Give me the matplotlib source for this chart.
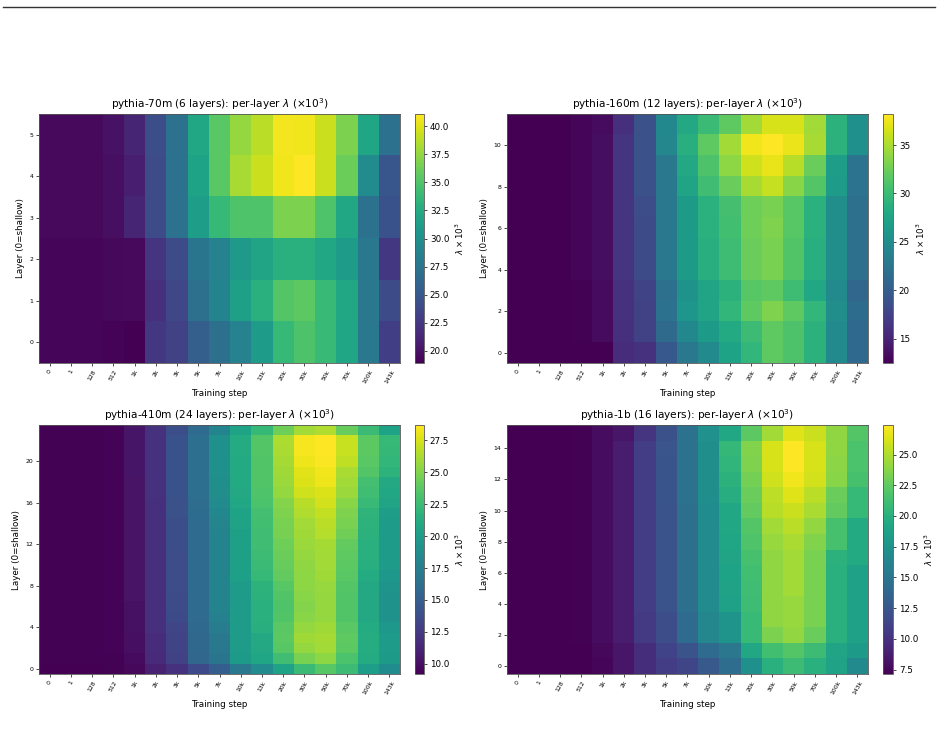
import numpy as np
import matplotlib
matplotlib.use("Agg")
import matplotlib.pyplot as plt
from matplotlib.lines import Line2D

steps = ["0", "1", "128", "512", "1k", "2k", "3k", "5k", "7k", "10k", "13k",
         "20k", "30k", "50k", "70k", "100k", "143k"]

# pythia-70m, layers 0..5 (values are lambda x 10^3)
lam_70m = [
    [19.2, 19.2, 19.2, 19.1, 18.9, 22.5, 23.3, 25.6, 27.1, 28.7, 31.1, 33.8, 34.9, 33.9, 32.0, 27.8, 23.0],
    [19.3, 19.3, 19.3, 19.4, 19.5, 22.0, 23.6, 27.1, 28.9, 31.5, 33.0, 35.2, 35.5, 33.9, 32.2, 27.8, 24.0],
    [19.3, 19.3, 19.3, 19.4, 19.5, 22.2, 24.1, 27.5, 28.7, 30.8, 31.9, 33.0, 33.0, 32.2, 31.2, 27.8, 22.5],
    [19.5, 19.5, 19.5, 19.8, 21.2, 24.0, 27.3, 31.3, 33.8, 35.0, 35.0, 36.7, 36.7, 35.0, 32.2, 27.3, 24.5],
    [19.5, 19.5, 19.5, 19.8, 20.8, 24.0, 27.3, 31.8, 35.4, 38.2, 39.3, 40.6, 41.1, 39.3, 36.1, 29.6, 24.8],
    [19.5, 19.5, 19.5, 20.0, 21.2, 24.2, 27.3, 32.2, 35.4, 37.6, 38.8, 40.7, 40.6, 39.3, 36.7, 32.0, 27.3],
]

# pythia-160m, layers 0..11
lam_160m = [
    [12.6, 12.6, 12.6, 12.6, 12.5, 15.8, 16.2, 19.6, 22.8, 24.8, 27.4, 29.5, 31.8, 31.0, 29.0, 24.7, 21.3],
    [12.6, 12.6, 12.6, 12.7, 13.3, 16.1, 17.6, 21.4, 24.5, 26.5, 28.2, 30.1, 31.8, 31.0, 29.0, 24.7, 21.3],
    [12.6, 12.6, 12.6, 12.7, 13.3, 16.2, 17.6, 22.2, 26.0, 27.5, 29.5, 31.8, 33.2, 31.8, 29.5, 25.2, 21.6],
    [12.6, 12.6, 12.6, 12.7, 13.3, 16.2, 17.8, 22.0, 25.6, 27.5, 29.0, 31.5, 31.8, 30.2, 27.9, 24.8, 21.0],
    [12.6, 12.6, 12.6, 12.9, 13.5, 16.4, 18.4, 22.8, 26.5, 28.7, 30.2, 32.3, 33.0, 31.2, 28.7, 25.2, 22.0],
    [12.6, 12.6, 12.6, 13.0, 13.5, 16.4, 18.4, 22.8, 26.5, 28.7, 30.2, 32.3, 33.0, 31.2, 28.7, 25.2, 22.0],
    [12.6, 12.6, 12.6, 13.0, 13.5, 16.4, 18.4, 22.8, 26.5, 28.9, 30.4, 32.5, 33.2, 31.5, 28.9, 25.2, 22.0],
    [12.6, 12.6, 12.6, 13.0, 13.5, 16.4, 18.6, 22.8, 26.5, 28.9, 30.6, 32.5, 33.0, 31.5, 28.9, 25.2, 22.0],
    [12.6, 12.6, 12.6, 13.0, 13.5, 16.4, 18.9, 22.8, 27.5, 30.3, 32.3, 34.8, 35.9, 33.6, 31.3, 26.6, 22.3],
    [12.6, 12.6, 12.6, 13.0, 13.5, 16.4, 18.9, 22.8, 28.0, 31.0, 33.8, 36.3, 37.3, 35.4, 32.3, 26.8, 22.3],
    [12.6, 12.6, 12.6, 13.0, 13.5, 16.4, 18.9, 24.4, 28.7, 31.8, 34.6, 37.6, 38.2, 37.4, 34.8, 29.0, 25.4],
    [12.6, 12.6, 12.6, 13.0, 13.3, 16.1, 18.9, 24.5, 28.0, 30.0, 31.8, 34.6, 36.6, 36.6, 34.6, 29.0, 25.4],
]

# pythia-410m, layers 0..23
lam_410m = [
    [9.2, 9.2, 9.2, 9.3, 9.6, 11.0, 12.0, 13.5, 15.0, 17.0, 18.6, 20.5, 22.5, 23.6, 22.6, 20.1, 18.7],
    [9.3, 9.3, 9.3, 9.3, 9.8, 11.6, 13.0, 15.6, 16.8, 19.8, 20.7, 22.7, 24.8, 25.4, 23.2, 21.2, 19.8],
    [9.3, 9.3, 9.3, 9.4, 10.0, 11.7, 13.2, 15.8, 17.0, 20.0, 21.0, 23.6, 25.6, 26.0, 23.8, 21.3, 19.9],
    [9.3, 9.3, 9.3, 9.4, 10.0, 11.7, 13.2, 15.8, 17.0, 20.0, 21.0, 23.8, 25.9, 26.1, 23.9, 21.3, 19.9],
    [9.3, 9.3, 9.3, 9.4, 10.1, 11.8, 13.3, 15.9, 17.5, 19.9, 21.4, 23.7, 25.6, 25.9, 23.7, 21.2, 19.6],
    [9.3, 9.3, 9.3, 9.4, 10.1, 11.8, 13.6, 16.0, 17.8, 19.9, 21.6, 23.4, 25.2, 25.6, 23.4, 21.0, 19.2],
    [9.3, 9.3, 9.3, 9.4, 10.1, 11.8, 13.7, 16.0, 18.0, 19.9, 21.6, 23.3, 25.1, 25.6, 23.4, 21.0, 19.2],
    [9.3, 9.3, 9.3, 9.4, 10.2, 11.8, 13.7, 16.0, 18.0, 19.9, 21.7, 23.4, 25.2, 25.6, 23.4, 21.0, 19.2],
    [9.3, 9.3, 9.3, 9.4, 10.2, 11.8, 13.8, 16.0, 18.0, 20.0, 21.8, 23.6, 25.4, 25.7, 23.5, 21.0, 19.3],
    [9.3, 9.3, 9.3, 9.4, 10.2, 11.8, 13.8, 16.0, 18.0, 20.2, 22.3, 24.0, 25.4, 25.9, 23.7, 21.2, 19.6],
    [9.3, 9.3, 9.3, 9.4, 10.2, 11.8, 13.8, 16.0, 18.0, 20.3, 22.5, 24.2, 25.5, 26.0, 23.8, 21.5, 19.9],
    [9.3, 9.3, 9.3, 9.4, 10.2, 11.8, 13.8, 16.0, 18.0, 20.3, 22.6, 24.3, 25.6, 26.0, 23.9, 21.6, 19.9],
    [9.3, 9.3, 9.3, 9.4, 10.2, 11.8, 13.9, 16.0, 18.0, 20.3, 22.7, 24.4, 25.8, 26.1, 24.0, 21.6, 19.9],
    [9.3, 9.3, 9.3, 9.4, 10.2, 11.8, 13.9, 16.0, 18.0, 20.3, 22.7, 24.7, 25.9, 26.5, 24.5, 21.7, 19.9],
    [9.3, 9.3, 9.3, 9.4, 10.2, 11.8, 13.9, 16.0, 18.1, 20.4, 22.8, 24.8, 26.0, 26.7, 24.8, 21.8, 20.0],
    [9.3, 9.3, 9.3, 9.4, 10.2, 11.9, 14.0, 16.1, 18.3, 20.5, 22.9, 24.9, 26.4, 26.9, 24.9, 21.9, 20.1],
    [9.3, 9.3, 9.3, 9.4, 10.2, 11.9, 14.0, 16.2, 18.6, 20.8, 23.2, 25.1, 26.6, 27.4, 25.2, 22.4, 20.6],
    [9.3, 9.3, 9.3, 9.4, 10.2, 12.0, 14.1, 16.3, 18.8, 21.0, 23.3, 25.6, 27.3, 27.7, 25.8, 22.7, 20.9],
    [9.3, 9.3, 9.3, 9.4, 10.2, 12.0, 14.1, 16.3, 18.9, 21.1, 23.4, 25.8, 27.7, 28.2, 26.0, 22.9, 21.0],
    [9.3, 9.3, 9.3, 9.4, 10.3, 12.0, 14.1, 16.3, 19.0, 21.1, 23.4, 25.9, 27.8, 28.3, 26.2, 23.5, 21.8],
    [9.3, 9.3, 9.3, 9.4, 10.3, 12.0, 14.1, 16.3, 19.0, 21.1, 23.4, 26.1, 28.2, 28.6, 26.8, 23.7, 22.1],
    [9.3, 9.3, 9.3, 9.4, 10.3, 12.0, 14.1, 16.3, 19.0, 21.2, 23.5, 26.2, 28.4, 28.7, 27.1, 23.8, 22.2],
    [9.3, 9.3, 9.3, 9.4, 10.3, 12.0, 14.1, 16.3, 19.0, 21.2, 23.5, 26.3, 28.4, 28.7, 27.1, 23.8, 22.3],
    [9.3, 9.3, 9.3, 9.4, 10.3, 12.0, 13.9, 16.0, 18.0, 20.5, 22.3, 24.4, 26.0, 26.4, 24.2, 22.5, 20.5],
]

# pythia-1b, layers 0..15
lam_1b = [
    [7.15, 7.2, 7.2, 7.2, 7.4, 8.4, 9.8, 10.8, 11.4, 12.8, 14.4, 17.3, 20.0, 21.0, 20.0, 18.8, 16.8],
    [7.2, 7.2, 7.2, 7.2, 7.6, 8.4, 9.8, 11.2, 12.3, 14.2, 15.2, 19.3, 21.3, 22.0, 21.0, 19.0, 18.2],
    [7.2, 7.2, 7.2, 7.3, 7.8, 8.8, 10.6, 11.9, 14.2, 16.5, 17.6, 20.9, 23.4, 24.1, 22.8, 20.0, 18.7],
    [7.2, 7.2, 7.2, 7.3, 7.8, 8.8, 10.6, 11.9, 14.2, 16.5, 17.6, 20.9, 24.0, 24.3, 23.3, 20.0, 18.7],
    [7.2, 7.2, 7.2, 7.3, 7.8, 8.8, 10.8, 12.3, 14.6, 16.9, 18.7, 21.1, 24.0, 24.3, 23.3, 20.0, 18.7],
    [7.2, 7.2, 7.2, 7.3, 7.8, 8.8, 10.8, 12.3, 14.6, 16.9, 18.8, 21.2, 24.0, 24.6, 23.3, 20.0, 18.7],
    [7.2, 7.2, 7.2, 7.3, 7.8, 8.8, 10.8, 12.3, 14.6, 16.9, 18.9, 21.3, 24.0, 24.6, 23.3, 20.0, 18.7],
    [7.2, 7.2, 7.2, 7.3, 7.8, 8.8, 10.8, 12.3, 14.6, 16.9, 19.0, 21.5, 24.0, 24.6, 23.3, 20.2, 19.5],
    [7.2, 7.2, 7.2, 7.3, 7.8, 8.8, 10.8, 12.3, 14.6, 16.9, 19.1, 21.8, 24.3, 24.8, 23.6, 21.5, 19.5],
    [7.2, 7.2, 7.2, 7.3, 7.8, 8.8, 10.8, 12.3, 14.6, 16.9, 19.2, 22.0, 24.6, 25.3, 24.1, 21.5, 19.5],
    [7.2, 7.2, 7.2, 7.3, 7.8, 8.8, 10.8, 12.3, 14.6, 17.0, 19.3, 22.5, 25.2, 25.8, 24.8, 22.5, 20.7],
    [7.2, 7.2, 7.2, 7.3, 7.8, 8.8, 10.8, 12.4, 14.8, 17.2, 19.8, 22.8, 25.4, 26.4, 25.3, 22.8, 20.7],
    [7.2, 7.2, 7.2, 7.3, 7.8, 8.8, 10.8, 12.4, 14.8, 17.2, 20.2, 23.2, 25.9, 27.0, 26.0, 23.8, 21.5],
    [7.2, 7.2, 7.2, 7.3, 7.8, 8.8, 10.8, 12.4, 14.8, 17.2, 20.5, 23.5, 26.2, 27.4, 26.2, 23.9, 21.7],
    [7.2, 7.2, 7.2, 7.3, 7.8, 8.8, 10.8, 12.5, 14.8, 17.2, 20.6, 23.6, 26.2, 27.4, 26.2, 24.0, 21.7],
    [7.2, 7.2, 7.2, 7.3, 7.8, 8.4, 10.2, 12.2, 14.8, 17.4, 19.3, 22.3, 24.6, 26.4, 25.8, 24.0, 22.0],
]

titles = [
    r"pythia-70m (6 layers): per-layer $\lambda$ ($\times10^3$)",
    r"pythia-160m (12 layers): per-layer $\lambda$ ($\times10^3$)",
    r"pythia-410m (24 layers): per-layer $\lambda$ ($\times10^3$)",
    r"pythia-1b (16 layers): per-layer $\lambda$ ($\times10^3$)",
]
datasets = [lam_70m, lam_160m, lam_410m, lam_1b]

W, H = 948, 738
fig = plt.figure(figsize=(W / 100, H / 100), dpi=100)

def fx(px):
    return px / W

def fy(py):
    return 1 - py / H

# (left, right, top, bottom) in pixels for heatmap; colorbar left/right
boxes = [
    (39, 400, 114, 363, 415, 424),
    (507, 868, 114, 363, 883, 893),
    (39, 400, 425, 674, 415, 424),
    (507, 868, 425, 674, 883, 893),
]

for data, title, (l, r, t, b, cl, cr) in zip(datasets, titles, boxes):
    arr = np.array(data)
    n_layers = arr.shape[0]
    ax = fig.add_axes([fx(l), fy(b), fx(r - l), (b - t) / H])
    im = ax.imshow(arr, origin="lower", aspect="auto", cmap="viridis",
                   interpolation="nearest")
    ax.set_xticks(range(len(steps)))
    ax.set_xticklabels(steps, rotation=60, fontsize=4.4)
    ax.set_yticks(range(0, n_layers, max(1, n_layers // 6)))
    ax.tick_params(axis="both", labelsize=4.4, length=2.2, width=0.5, pad=2)
    ax.set_xlabel("Training step", fontsize=6.3, labelpad=3)
    ax.set_ylabel("Layer (0=shallow)", fontsize=6.3, labelpad=3)
    ax.set_title(title, fontsize=7.6, pad=4)
    for s in ax.spines.values():
        s.set_linewidth(0.6)
        s.set_color("#555555")
    cax = fig.add_axes([fx(cl), fy(b), fx(cr - cl), (b - t) / H])
    cb = fig.colorbar(im, cax=cax)
    cb.ax.tick_params(labelsize=6.3, length=2.2, width=0.5, pad=2)
    cb.outline.set_linewidth(0.6)
    cb.outline.set_edgecolor("#555555")
    cb.set_label(r"$\lambda\times10^3$", fontsize=6.3, labelpad=3)

fig.add_artist(Line2D([fx(3), fx(935)], [fy(7), fy(7)],
                      transform=fig.transFigure, color="#333333", lw=1.0))

fig.savefig("out.png", dpi=100)
